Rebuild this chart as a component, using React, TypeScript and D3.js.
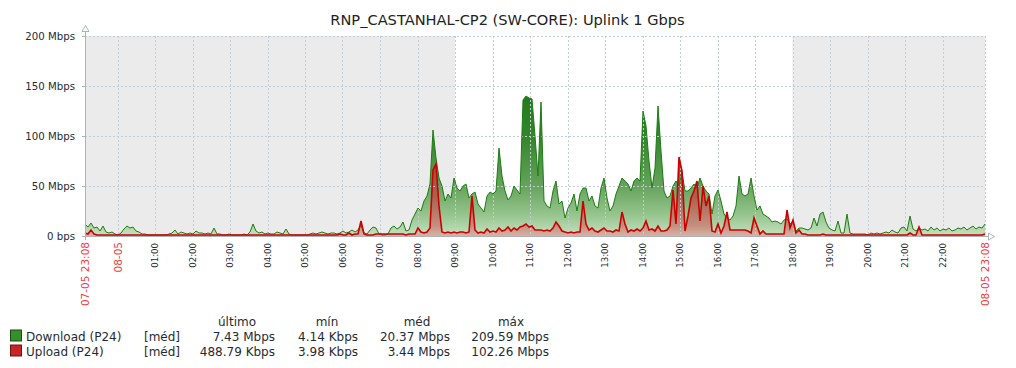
import React from "react";
import * as d3 from "d3";

const TITLE = "RNP_CASTANHAL-CP2 (SW-CORE): Uplink 1 Gbps";
const START = new Date(2024, 4, 7, 23, 8);
const END = new Date(2024, 4, 8, 23, 8);
const STEP_MIN = 4.8;
const WORK_START = new Date(2024, 4, 8, 9, 0);
const WORK_END = new Date(2024, 4, 8, 18, 0);

// Mbps, one sample every 4.8 minutes from 07-05 23:08
const downloadMbps = [
  12, 9, 13, 8, 9, 5, 10, 4, 3, 4,
  2, 1, 3, 7, 10, 8, 9, 5, 4, 2,
  2, 1, 1, 1, 1, 1, 1, 1, 2, 3,
  6, 2, 4, 3, 2, 3, 2, 5, 3, 3,
  2, 3, 2, 8, 2, 2, 1, 1, 2, 1,
  1, 1, 1, 2, 1, 4, 12, 5, 3, 4,
  2, 3, 2, 2, 4, 3, 2, 7, 2, 1,
  1, 1, 1, 1, 1, 2, 3, 2, 3, 4,
  3, 2, 3, 3, 2, 3, 5, 3, 4, 6,
  4, 6, 11, 3, 2, 6, 9, 8, 2, 1,
  1, 2, 8, 10, 7, 9, 14, 5, 6, 16,
  22, 28, 25, 35, 40, 52, 106, 78, 58, 50,
  35, 42, 38, 58, 48, 45, 50, 52, 38, 42,
  44, 32, 28, 24, 40, 44, 42, 45, 88, 60,
  45, 36, 40, 50, 46, 42, 136, 140, 138, 137,
  100, 60, 134, 35, 30, 28, 45, 55, 32, 35,
  18, 28, 33, 42, 25, 42, 48, 48, 35, 40,
  30, 28, 48, 58, 38, 25, 30, 42, 50, 58,
  55, 52, 45, 55, 58, 55, 125, 110, 75, 48,
  68, 130, 85, 45, 38, 40, 50, 55, 50, 64,
  45, 45, 48, 52, 48, 58, 50, 45, 42, 22,
  40, 46, 35, 22, 18, 16, 20, 30, 60, 42,
  40, 42, 58, 40, 26, 30, 22, 20, 18, 14,
  15, 14, 12, 16, 17, 12, 14, 5, 8, 8,
  7, 6, 8, 18, 10, 22, 24, 14, 8, 6,
  5, 15, 3, 3, 22, 3, 2, 2, 2, 2,
  2, 1, 3, 2, 3, 2, 3, 4, 3, 6,
  4, 3, 8, 9, 5, 20, 7, 5, 8, 6,
  7, 5, 9, 6, 8, 5, 7, 6, 8, 5,
  6, 8, 7, 9, 6, 8, 10, 7, 9, 8,
  12,
];

const uploadMbps = [
  3, 2, 6, 2, 1, 1, 1, 1, 1, 1,
  1, 1, 1, 1, 1, 1, 1, 1, 1, 1,
  1, 1, 1, 1, 1, 1, 1, 1, 1, 1,
  1, 1, 1, 1, 1, 1, 1, 1, 1, 1,
  1, 1, 1, 1, 1, 1, 1, 1, 1, 1,
  1, 1, 1, 1, 1, 1, 1, 1, 1, 1,
  1, 1, 1, 1, 1, 1, 1, 1, 1, 1,
  1, 1, 1, 1, 1, 1, 1, 1, 1, 1,
  1, 1, 1, 1, 1, 2, 1, 1, 3, 1,
  2, 2, 15, 2, 1, 1, 1, 2, 2, 2,
  2, 2, 2, 2, 2, 2, 2, 1, 2, 2,
  2, 8, 4, 3, 4, 8, 66, 72, 30, 4,
  3, 4, 3, 4, 3, 4, 4, 3, 4, 40,
  6, 3, 4, 3, 7, 4, 5, 4, 8, 5,
  6, 9, 5, 8, 6, 9, 10, 12, 9, 10,
  6, 6, 6, 5, 6, 5, 8, 14, 10, 5,
  4, 3, 4, 3, 4, 4, 35, 12, 6, 8,
  5, 4, 6, 8, 5, 5, 4, 6, 5, 24,
  12, 4, 6, 5, 7, 5, 8, 15, 6, 7,
  5, 10, 5, 5, 6, 10, 46, 12, 79, 65,
  5, 20, 38, 45, 55, 15, 50, 30, 40, 5,
  4, 12, 3, 10, 24, 6, 6, 6, 6, 6,
  6, 5, 3, 18, 10, 2, 5, 2, 2, 2,
  2, 2, 2, 2, 26, 8, 16, 3, 6, 2,
  2, 1, 1, 1, 1, 1, 2, 1, 1, 1,
  1, 1, 1, 1, 1, 1, 1, 1, 1, 1,
  1, 1, 1, 1, 1, 1, 1, 1, 1, 1,
  1, 1, 1, 1, 1, 3, 1, 1, 9, 1,
  1, 1, 1, 1, 1, 1, 1, 1, 1, 1,
  1, 1, 1, 1, 1, 1, 1, 1, 1, 1,
  2,
];

const yTicks = [0, 50, 100, 150, 200];
const yTickLabels = ["0 bps", "50 Mbps", "100 Mbps", "150 Mbps", "200 Mbps"];
const hourTicks = [1, 2, 3, 4, 5, 6, 7, 8, 9, 10, 11, 12, 13, 14, 15, 16, 17, 18, 19, 20, 21, 22];
const hourLabels = hourTicks.map((h) => (h < 10 ? "0" + h : "" + h) + ":00");
const startLabel = "07-05 23:08";
const midnightLabel = "08-05";
const endLabel = "08-05 23:08";

const legendHeaders = ["último", "mín", "méd", "máx"];
const legendNames = ["Download (P24)", "Upload (P24)"];
const legendFunc = ["[méd]", "[méd]"];
const legendLast = ["7.43 Mbps", "488.79 Kbps"];
const legendMin = ["4.14 Kbps", "3.98 Kbps"];
const legendAvg = ["20.37 Mbps", "3.44 Mbps"];
const legendMax = ["209.59 Mbps", "102.26 Mbps"];

const W = 1016;
const H = 368;
const L = 85;
const R = 985;
const T = 36;
const B = 236;
const FONT = "'DejaVu Sans', sans-serif";
const TEXT = "#1f2c33";
const GRID = "#c3ccd4";
const AXIS = "#a9b3bc";

type Pt = { t: Date; v: number };

export default function App() {
  const x = d3.scaleTime().domain([START, END]).range([L, R]);
  const y = d3.scaleLinear().domain([0, 200]).range([B, T]);
  const toPts = (arr: number[]): Pt[] =>
    arr.map((v, i) => ({ t: new Date(START.getTime() + i * STEP_MIN * 60000), v }));
  const down = toPts(downloadMbps);
  const up = toPts(uploadMbps);
  const area = d3
    .area<Pt>()
    .x((d) => x(d.t))
    .y0(y(0))
    .y1((d) => y(d.v));
  const line = d3
    .line<Pt>()
    .x((d) => x(d.t))
    .y((d) => y(d.v));

  const midnight = new Date(2024, 4, 8, 0, 0);
  const hourDates = hourTicks.map((h) => new Date(2024, 4, 8, h, 0));
  const vGrid = [midnight, ...hourDates];

  const legendRows = [0, 1];
  const colRight = [275, 358, 450, 549];
  const headerCenter = [237, 327, 417, 511];
  const colVals = [legendLast, legendMin, legendAvg, legendMax];
  const rowBase = [340.5, 355.5];
  const swatchFill = ["#33902b", "#c82424"];
  const swatchStroke = ["#1d4d18", "#6b1414"];

  return (
    <svg
      width={W}
      height={H}
      style={{ position: "absolute", left: 0, top: 0, background: "#fff" }}
      fontFamily={FONT}
    >
      <defs>
        <linearGradient id="gDown" gradientUnits="userSpaceOnUse" x1="0" y1={T} x2="0" y2={B}>
          <stop offset="0" stopColor="#17700f" />
          <stop offset="0.3" stopColor="#237b1b" />
          <stop offset="0.5" stopColor="#33852b" />
          <stop offset="0.75" stopColor="#65a35c" />
          <stop offset="0.9" stopColor="#98c690" />
          <stop offset="1" stopColor="#c6e2c0" />
        </linearGradient>
        <linearGradient id="gUp" gradientUnits="userSpaceOnUse" x1="0" y1={T} x2="0" y2={B}>
          <stop offset="0" stopColor="#8a2a1a" />
          <stop offset="0.6" stopColor="#9a4838" />
          <stop offset="0.8" stopColor="#a9614f" />
          <stop offset="0.95" stopColor="#c4907f" />
          <stop offset="1" stopColor="#d6b3a6" />
        </linearGradient>
      </defs>

      <text x={507.5} y={25} textAnchor="middle" fontSize={14.6} fill="#222">
        {TITLE}
      </text>

      {/* non-working time shading */}
      <rect x={L} y={T} width={x(WORK_START) - L} height={B - T} fill="#ebebeb" />
      <rect x={x(WORK_END)} y={T} width={R - x(WORK_END)} height={B - T} fill="#ebebeb" />

      <path d={area(down) || ""} fill="url(#gDown)" />
      <path d={area(up) || ""} fill="url(#gUp)" />

      {/* grid */}
      {yTicks.slice(1).map((v) => (
        <line key={"gy" + v} x1={L} x2={R} y1={y(v) + 0.5} y2={y(v) + 0.5} stroke={GRID} strokeDasharray="2,2" />
      ))}
      {vGrid.map((d, i) => (
        <line key={"gx" + i} x1={Math.round(x(d)) + 0.5} x2={Math.round(x(d)) + 0.5} y1={T} y2={B} stroke={GRID} strokeDasharray="2,2" />
      ))}
      <line x1={R + 0.5} x2={R + 0.5} y1={T} y2={B} stroke={GRID} strokeDasharray="2,2" />

      <path d={line(down) || ""} fill="none" stroke="#1d7c14" strokeWidth={1} />
      <path d={line(up) || ""} fill="none" stroke="#cc0000" strokeWidth={1.6} />

      {/* axes */}
      <line x1={L + 0.5} x2={L + 0.5} y1={31} y2={B + 4} stroke={AXIS} />
      <line x1={L - 3} x2={R + 3} y1={B + 0.5} y2={B + 0.5} stroke={AXIS} />
      <path d={`M${L + 0.5},25.5 L${L + 4},31.5 L${L - 3},31.5 Z`} fill="#fff" stroke={AXIS} />
      <path d={`M${R + 9.5},${B + 0.5} L${R + 3.5},${B - 3} L${R + 3.5},${B + 4} Z`} fill="#fff" stroke={AXIS} />
      {yTicks.map((v) => (
        <line key={"ty" + v} x1={L - 3} x2={L} y1={y(v) + 0.5} y2={y(v) + 0.5} stroke={AXIS} />
      ))}

      {yTicks.map((v, i) => (
        <text key={"ly" + v} x={75} y={y(v) + 4} textAnchor="end" fontSize={10.2} fill={TEXT}>
          {yTickLabels[i]}
        </text>
      ))}

      {/* x labels */}
      {hourDates.map((d, i) => (
        <text
          key={"lx" + i}
          transform={`translate(${x(d) + 3.3},243) rotate(-90)`}
          textAnchor="end"
          fontSize={8.6}
          fill={TEXT}
        >
          {hourLabels[i]}
        </text>
      ))}
      {[
        { d: START, s: startLabel },
        { d: midnight, s: midnightLabel },
        { d: END, s: endLabel },
      ].map((o, i) => (
        <text
          key={"lr" + i}
          transform={`translate(${x(o.d) + 4},242) rotate(-90)`}
          textAnchor="end"
          fontSize={10.5}
          fill="#f23c3c"
        >
          {o.s}
        </text>
      ))}

      {/* legend */}
      {legendHeaders.map((h, i) => (
        <text key={"lh" + i} x={headerCenter[i]} y={326} textAnchor="middle" fontSize={12} fill={TEXT}>
          {h}
        </text>
      ))}
      {legendRows.map((r) => (
        <g key={"lg" + r}>
          <rect x={10.5} y={rowBase[r] - 10.5} width={11} height={11} fill={swatchFill[r]} stroke={swatchStroke[r]} />
          <text x={26} y={rowBase[r]} fontSize={12} fill={TEXT}>
            {legendNames[r]}
          </text>
          <text x={144} y={rowBase[r]} fontSize={12} fill={TEXT}>
            {legendFunc[r]}
          </text>
          {colVals.map((c, j) => (
            <text key={"lv" + j} x={colRight[j]} y={rowBase[r]} textAnchor="end" fontSize={12} fill={TEXT}>
              {c[r]}
            </text>
          ))}
        </g>
      ))}
    </svg>
  );
}
